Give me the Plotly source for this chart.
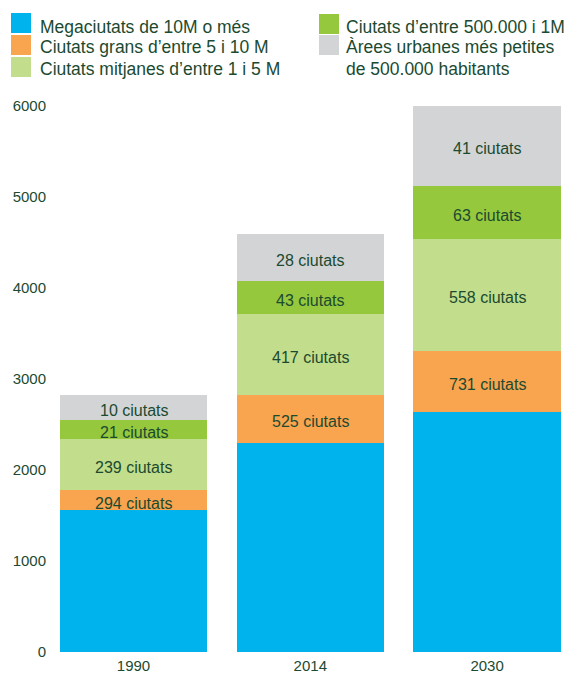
import plotly.graph_objects as go

# Urban population by settlement size (millions), stacked per year
years = ["1990", "2014", "2030"]
series_names = [
    "Megaciutats de 10M o més",
    "Ciutats grans d’entre 5 i 10 M",
    "Ciutats mitjanes d’entre 1 i 5 M",
    "Ciutats d’entre 500.000 i 1M",
    "Àrees urbanes més petites",
]
legend_extra_line = "de 500.000 habitants"
mega = [1560, 2297, 2641]
grans = [220, 527, 667]
mitjanes = [560, 890, 1231]
mig_milio = [215, 363, 582]
petites = [265, 516, 879]

# City counts written inside the segments (none on the megacity segment)
n_grans = [294, 525, 731]
n_mitjanes = [239, 417, 558]
n_mig_milio = [21, 43, 63]
n_petites = [10, 28, 41]

colors = ["#00b3ec", "#f9a44f", "#c2dd8b", "#95c83d", "#d3d4d6"]
text_color = "#1b4a30"
font_family = "Liberation Sans, Arial, sans-serif"

values = [mega, grans, mitjanes, mig_milio, petites]
counts = [None, n_grans, n_mitjanes, n_mig_milio, n_petites]

W, H = 564, 673
M_L, M_R, M_T, M_B = 55, 0, 106, 21
PW, PH = W - M_L - M_R, H - M_T - M_B

fig = go.Figure()
for name, vals, col in zip(series_names, values, colors):
    fig.add_trace(go.Bar(
        x=years, y=vals, name=name, marker=dict(color=col, line=dict(width=0)),
        showlegend=False, hoverinfo="skip",
    ))

annotations = []

# Segment labels, centred on each stacked segment (x given as category index)
base = [0] * len(years)
for vals, cnt in zip(values, counts):
    if cnt:
        for i in range(len(years)):
            annotations.append(dict(
                xref="x", yref="y", x=i, y=base[i] + vals[i] / 2, yshift=-3,
                text=f"{cnt[i]} ciutats", showarrow=False,
                xanchor="center", yanchor="middle",
                font=dict(size=16, color=text_color, family=font_family),
            ))
    base = [b + v for b, v in zip(base, vals)]


def px_x(p):
    return (p - M_L) / PW


def px_y(p):
    return (H - M_B - p) / PH


# Legend: two columns of swatches with labels
legend_items = [
    (0, 11, 13, 38, 27),
    (1, 11, 35, 38, 47.5),
    (2, 11, 57, 38, 69),
    (3, 319, 14, 344, 27),
    (4, 319, 35, 344, 47.5),
]
shapes = []
legend_font = dict(size=17.5, color=text_color, family=font_family)
for idx, sx, sy, tx, ty in legend_items:
    shapes.append(dict(
        type="rect", xref="paper", yref="paper",
        x0=px_x(sx), x1=px_x(sx + 20), y0=px_y(sy + 20), y1=px_y(sy),
        fillcolor=colors[idx], line=dict(width=0), layer="above",
    ))
    annotations.append(dict(
        xref="paper", yref="paper", x=px_x(tx), y=px_y(ty),
        xanchor="left", yanchor="middle", align="left", showarrow=False,
        text=series_names[idx], font=legend_font,
    ))
annotations.append(dict(
    xref="paper", yref="paper", x=px_x(344), y=px_y(69),
    xanchor="left", yanchor="middle", align="left", showarrow=False,
    text=legend_extra_line, font=legend_font,
))

fig.update_layout(
    barmode="stack",
    bargap=0.166,
    width=W, height=H,
    margin=dict(l=M_L, r=M_R, t=M_T, b=M_B, autoexpand=False),
    paper_bgcolor="white", plot_bgcolor="white",
    font=dict(family=font_family, color=text_color, size=15),
    shapes=shapes,
    annotations=annotations,
    showlegend=False,
    xaxis=dict(
        type="category", range=[-0.444, 2.435], showgrid=False, showline=False,
        zeroline=False, ticks="", tickfont=dict(size=15, color=text_color),
        ticklabelstandoff=3,
    ),
    yaxis=dict(
        range=[0, 6000], dtick=1000, showgrid=False, showline=False,
        zeroline=False, ticks="", tickfont=dict(size=15, color=text_color),
        ticklabelstandoff=8,
    ),
)

fig.write_html("out.html")
